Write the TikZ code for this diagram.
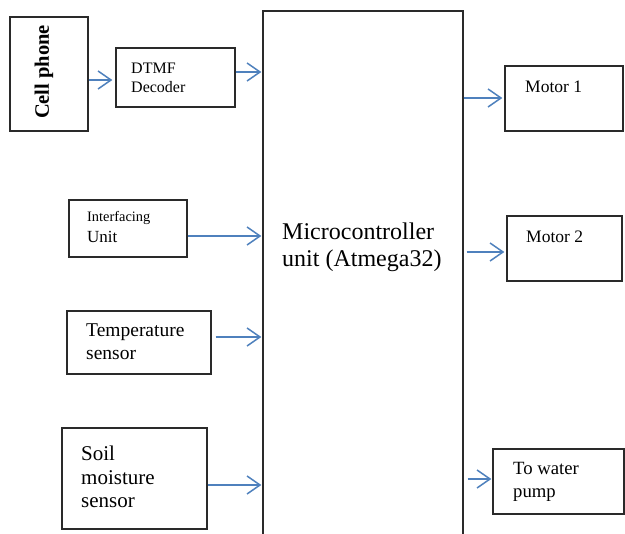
\documentclass[tikz,border=0pt]{standalone}
\usepackage{fontspec}
\setmainfont{Liberation Serif}
\usetikzlibrary{arrows.meta}
\definecolor{arrowblue}{HTML}{4F81BD}
\definecolor{boxline}{HTML}{2A2A2A}
\tikzset{
  blk/.style={draw=boxline, line width=1.3pt, inner sep=0pt},
  arr/.style={draw=arrowblue, line width=1.5pt, -{Straight Barb[length=13pt,width=18pt,line width=1.5pt]}},
  txt/.style={anchor=west, inner sep=0pt, align=left, text=black},
}
\newcommand{\fs}[2]{\fontsize{#1pt}{#2pt}\selectfont}
\begin{document}
\begin{tikzpicture}[x=1pt,y=-1pt]
\useasboundingbox (0,0) rectangle (625,534);
\clip (0,0) rectangle (625,534);
\fill[white] (0,0) rectangle (625,534);
% boxes
\node[blk, minimum width=78, minimum height=114] (cell) at (49,74) {};
\node[blk, minimum width=119, minimum height=59] (dtmf) at (175.5,77.5) {};
\node[blk, minimum width=200, minimum height=589] (mcu) at (363,305.5) {};
\node[blk, minimum width=118, minimum height=65] (m1) at (564,98.5) {};
\node[blk, minimum width=115, minimum height=65] (m2) at (564.5,248.5) {};
\node[blk, minimum width=118, minimum height=57] (iface) at (128,228.5) {};
\node[blk, minimum width=144, minimum height=63] (temp) at (139,342.5) {};
\node[blk, minimum width=145, minimum height=101] (soil) at (134.5,478.5) {};
\node[blk, minimum width=131, minimum height=65] (pump) at (558.5,481.5) {};
% texts
\node[inner sep=0pt, rotate=90, font=\fs{20.5}{24}\bfseries] (celltxt) at (44,72) {Cell phone};
\node[txt, font=\fs{16}{19}] (dtmftxt) at (131,78) {DTMF\\Decoder};
\node[txt, font=\fs{24}{27}] (mcutxt) at (282,247) {Microcontroller\\unit (Atmega32)};
\node[txt, font=\fs{17.5}{20}] (m1txt) at (525,87) {Motor 1};
\node[txt, font=\fs{17.5}{20}] (m2txt) at (526,237) {Motor 2};
\node[txt, font=\fs{14.4}{17}] (ifacetxt1) at (87,218) {Interfacing};
\node[txt, font=\fs{17}{20}] (ifacetxt2) at (87,237) {Unit};
\node[txt, font=\fs{19.5}{23}] (temptxt) at (86,341.5) {Temperature\\sensor};
\node[txt, font=\fs{21}{23.5}] (soiltxt) at (81,477) {Soil\\moisture\\sensor};
\node[txt, font=\fs{18.7}{23}] (pumptxt) at (513,481.5) {To water\\pump};
% arrows
\draw[arr, shorten >=3pt] (cell.east |- 0,80) -- (dtmf.west |- 0,80);
\draw[arr, shorten >=1pt] (dtmf.east |- 0,72) -- (mcu.west |- 0,72);
\draw[arr, shorten >=2pt] (mcu.east |- 0,98) -- (m1.west |- 0,98);
\draw[arr, shorten <=3pt, shorten >=2pt] (mcu.east |- 0,252) -- (m2.west |- 0,252);
\draw[arr, shorten >=1pt] (iface.east |- 0,236) -- (mcu.west |- 0,236);
\draw[arr, shorten <=4pt, shorten >=1pt] (temp.east |- 0,337) -- (mcu.west |- 0,337);
\draw[arr, shorten >=1pt] (soil.east |- 0,485) -- (mcu.west |- 0,485);
\draw[arr, shorten <=4pt, shorten >=1pt] (mcu.east |- 0,479) -- (pump.west |- 0,479);
\end{tikzpicture}
\end{document}
